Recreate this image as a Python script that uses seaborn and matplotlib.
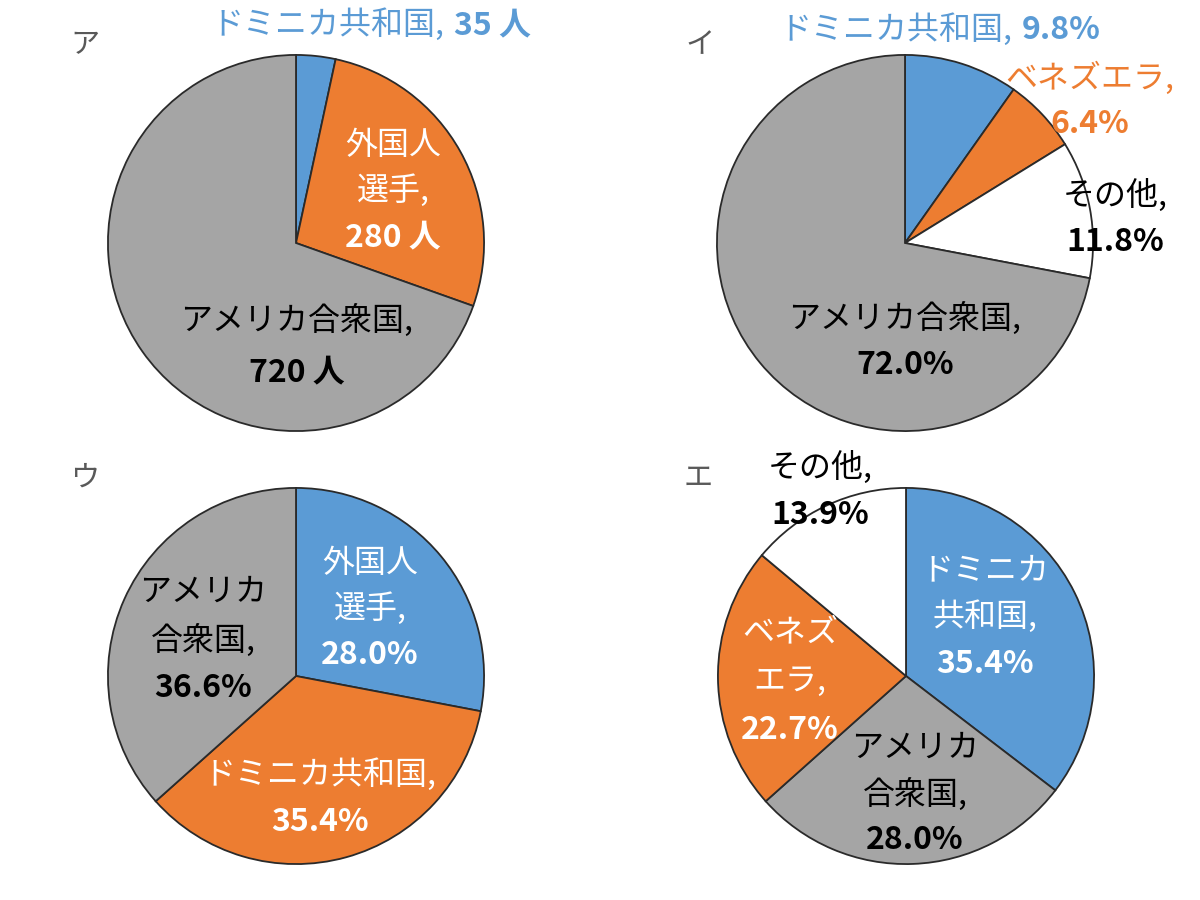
import matplotlib
matplotlib.use("Agg")
import matplotlib.pyplot as plt
import seaborn as sns

sns.set_theme(style="white")
plt.rcParams['font.family'] = ['Noto Sans CJK JP', 'DejaVu Sans']

# ---- data ----
panel_titles = ['ア', 'イ', 'ウ', 'エ']

a_names = ['ドミニカ共和国', '外国人選手', 'アメリカ合衆国']
a_values = [35, 280, 720]
a_texts = ['35 人', '280 人', '720 人']

b_names = ['ドミニカ共和国', 'ベネズエラ', 'その他', 'アメリカ合衆国']
b_values = [9.8, 6.4, 11.8, 72.0]

c_names = ['外国人選手', 'ドミニカ共和国', 'アメリカ合衆国']
c_values = [28.0, 35.4, 36.6]

d_names = ['ドミニカ共和国', 'アメリカ合衆国', 'ベネズエラ', 'その他']
d_values = [35.4, 28.0, 22.7, 13.9]

BLUE, ORANGE, GRAY, WHITE = '#5B9BD5', '#ED7D31', '#A5A5A5', '#FFFFFF'
a_colors = [BLUE, ORANGE, GRAY]
b_colors = [BLUE, ORANGE, WHITE, GRAY]
c_colors = [BLUE, ORANGE, GRAY]
d_colors = [BLUE, GRAY, ORANGE, WHITE]

W, H = 1200, 900
fig = plt.figure(figsize=(12, 9), dpi=100)
fig.patch.set_facecolor('white')

R = 189
centers = [(296, 243), (905, 243), (296, 676), (906, 676)]
datasets = [(a_values, a_colors), (b_values, b_colors), (c_values, c_colors), (d_values, d_colors)]

axes = []
for (cx, cy), (vals, cols) in zip(centers, datasets):
    ax = fig.add_axes([(cx - R) / W, (H - cy - R) / H, 2 * R / W, 2 * R / H])
    ax.pie(vals, colors=cols, startangle=90, counterclock=False, radius=1,
           wedgeprops=dict(edgecolor='#2a2a2a', linewidth=1.3))
    ax.set_xlim(-1.005, 1.005)
    ax.set_ylim(-1.005, 1.005)
    ax.set_aspect('equal')
    ax.axis('off')
    axes.append(ax)

FS_NAME = 23
FS_NUM = 23


def ftxt(px, py, s, color, weight='normal', ha='center', size=None):
    if size is None:
        size = FS_NUM if weight == 'bold' else FS_NAME
    fig.text(px / W, 1 - py / H, s, color=color, fontsize=size, fontweight=weight,
             ha=ha, va='center')


def block(px, py, lines, color, spacing=47):
    # lines: list of (text, weight); py is first line center
    for i, (s, w) in enumerate(lines):
        ftxt(px, py + i * spacing, s, color, w)


def inline(px_split, py, name, value, color):
    ftxt(px_split, py, name + ',', color, 'normal', ha='right')
    ftxt(px_split + 10, py, value, color, 'bold', ha='left')


# panel titles
for t, (x, y) in zip(panel_titles, [(85, 45), (700, 45), (85, 478), (698, 478)]):
    ftxt(x, y, t, '#595959', 'normal', size=21)

# ---- ア ----
inline(444, 25, a_names[0], a_texts[0], BLUE)
block(393, 145, [('外国人', 'normal'), ('選手,', 'normal'), (a_texts[1], 'bold')], 'white', 46)
block(297, 320, [('アメリカ合衆国,', 'normal'), (a_texts[2], 'bold')], 'black', 52)

# ---- イ ----
inline(1012, 30, b_names[0], f'{b_values[0]:.1f}%', BLUE)
block(1090, 78, [('ベネズエラ,', 'normal'), (f'{b_values[1]:.1f}%', 'bold')], ORANGE, 46)
block(1115, 195, [('その他,', 'normal'), (f'{b_values[2]:.1f}%', 'bold')], 'black', 47)
block(905, 318, [('アメリカ合衆国,', 'normal'), (f'{b_values[3]:.1f}%', 'bold')], 'black', 47)

# ---- ウ ----
block(370, 563, [('外国人', 'normal'), ('選手,', 'normal'), (f'{c_values[0]:.1f}%', 'bold')], 'white', 46)
block(320, 775, [('ドミニカ共和国,', 'normal'), (f'{c_values[1]:.1f}%', 'bold')], 'white', 47)
block(203, 592, [('アメリカ', 'normal'), ('合衆国,', 'normal'), (f'{c_values[2]:.1f}%', 'bold')], 'black', 48)

# ---- エ ----
block(820, 467, [('その他,', 'normal'), (f'{d_values[3]:.1f}%', 'bold')], 'black', 48)
block(985, 570, [('ドミニカ', 'normal'), ('共和国,', 'normal'), (f'{d_values[0]:.1f}%', 'bold')], 'white', 47)
block(790, 632, [('ベネズ', 'normal'), ('エラ,', 'normal'), (f'{d_values[2]:.1f}%', 'bold')], 'white', 49)
block(915, 748, [('アメリカ', 'normal'), ('合衆国,', 'normal'), (f'{d_values[1]:.1f}%', 'bold')], 'black', 46)

fig.savefig('out.png', dpi=100, facecolor='white')
